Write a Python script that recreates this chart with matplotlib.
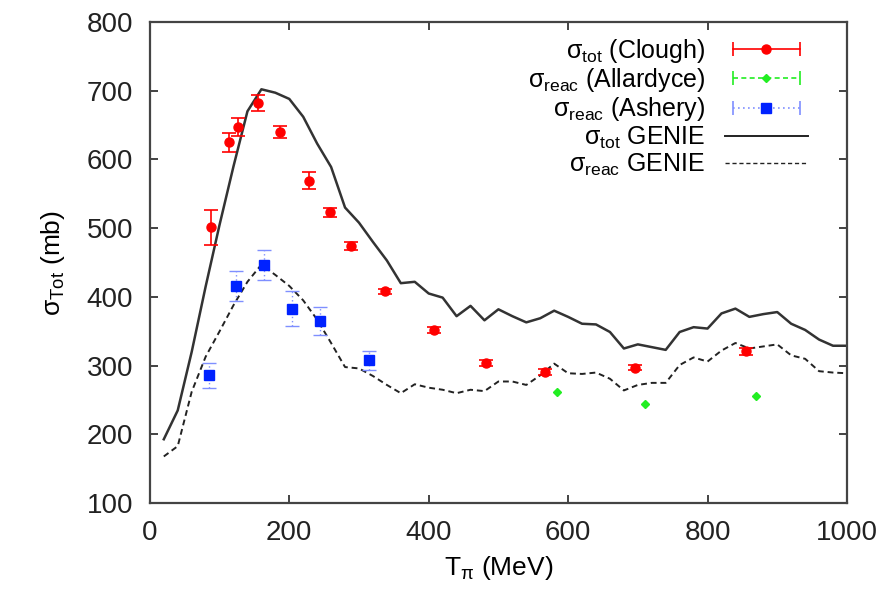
import matplotlib
matplotlib.use("Agg")
import matplotlib.pyplot as plt
from matplotlib.lines import Line2D
from matplotlib.legend_handler import HandlerLine2D, HandlerTuple

plt.rcParams["font.family"] = ["Liberation Sans", "DejaVu Sans"]
plt.rcParams["mathtext.fontset"] = "custom"
plt.rcParams["mathtext.rm"] = "Liberation Sans"
plt.rcParams["mathtext.it"] = "Liberation Sans:italic"

# sigma_tot (Clough)
clough_t = [88, 114, 127, 155, 186, 228, 258, 288, 337, 407, 482, 567, 696, 855]
clough_s = [501, 625, 647, 682, 640, 569, 523, 474, 408, 352, 304, 291, 297, 321]
clough_err = [25, 14, 13, 12, 9, 12, 7, 6, 4, 4, 4, 4, 4, 5]

# sigma_reac (Allardyce)
allardyce_t = [584, 711, 870]
allardyce_s = [262, 245, 256]

# sigma_reac (Ashery)
ashery_t = [85, 124, 164, 204, 244, 315]
ashery_s = [286, 416, 446, 383, 365, 308]
ashery_err = [18, 22, 22, 25, 20, 14]

# GENIE curves
genie_t = [20, 40, 60, 80, 100, 120, 140, 160, 180, 200, 220, 240, 260, 280, 300,
           320, 340, 360, 380, 400, 420, 440, 460, 480, 500, 520, 540, 560, 580, 600,
           620, 640, 660, 680, 700, 720, 740, 760, 780, 800, 820, 840, 860, 880, 900,
           920, 940, 960, 980, 1000]
genie_tot = [193, 235, 320, 415, 505, 590, 670, 702, 697, 688, 662, 623, 589, 530, 508,
             480, 453, 420, 422, 405, 399, 372, 387, 366, 382, 372, 363, 369, 380, 371,
             361, 360, 349, 325, 331, 327, 323, 349, 356, 354, 376, 383, 371, 375, 378,
             361, 352, 338, 329, 329]
genie_reac = [168, 183, 262, 313, 350, 388, 422, 447, 432, 416, 395, 367, 333, 298, 296,
              285, 272, 260, 273, 268, 265, 260, 265, 263, 277, 277, 272, 286, 303, 289,
              288, 290, 281, 264, 272, 275, 275, 301, 312, 306, 322, 333, 325, 328, 331,
              315, 310, 292, 290, 289]

fig = plt.figure(figsize=(8.92, 5.92), dpi=100)
ax = fig.add_axes([0.168, 0.150, 0.7815, 0.813])

red = "#ff0000"
green = "#22ee22"
blue = "#0022ff"
lblue = "#7f8fff"

ax.plot(genie_t, genie_tot, color="#333333", lw=1.8, zorder=2)
ax.plot(genie_t, genie_reac, color="#222222", lw=1.4, ls=(0, (3, 2)), zorder=2)

ax.errorbar(clough_t, clough_s, yerr=clough_err, fmt="o", color=red, ms=6.5,
            ecolor=red, elinewidth=1.2, capsize=5, capthick=1.2, zorder=3)
ax.plot(allardyce_t, allardyce_s, "D", color=green, ms=4, zorder=3)
eb = ax.errorbar(ashery_t, ashery_s, yerr=ashery_err, fmt="s", color=blue, ms=7,
                 ecolor=lblue, elinewidth=1.0, capsize=5, capthick=1.0, zorder=3)
eb[2][0].set_linestyle((0, (1, 2)))

ax.set_xlim(0, 1000)
ax.set_ylim(100, 800)
ax.set_xticks([0, 200, 400, 600, 800, 1000])
ax.set_yticks([100, 200, 300, 400, 500, 600, 700, 800])
ax.tick_params(direction="in", length=6, width=1.2, top=True, right=True,
               labelsize=20, pad=12, colors="#222222")
for s in ax.spines.values():
    s.set_linewidth(1.6)
    s.set_color("#444444")

ax.set_xlabel(r"T$_{\rm π}$ (MeV)", fontsize=19, labelpad=6)
ax.set_ylabel(r"σ$_{\rm Tot}$ (mb)", fontsize=19, labelpad=14)

# legend handles in gnuplot style: line with end caps and marker in middle
def cap_handle(color, ls, marker, ms):
    caps = Line2D([], [], color=color, ls=ls, lw=1.2, marker="|", ms=10, mew=1.2)
    dot = Line2D([], [], color=color, ls="none", marker=marker, ms=ms)
    return (caps, dot), {caps: HandlerLine2D(numpoints=2), dot: HandlerLine2D(numpoints=1)}

h1, m1 = cap_handle(red, "-", "o", 6.5)
h2, m2 = cap_handle(green, (0, (3, 2)), "D", 4)
h3, m3 = cap_handle(lblue, (0, (1, 2)), "s", 7)
h3[1].set_color(blue)
h4 = Line2D([], [], color="#222222", lw=1.4)
h5 = Line2D([], [], color="#222222", lw=1.0, ls=(0, (3, 2)))
hmap = {tuple: HandlerTuple(ndivide=1, pad=0)}
hmap.update(m1)
hmap.update(m2)
hmap.update(m3)

labels = ["σ$_{\\rm tot}$ (Clough)", "σ$_{\\rm reac}$ (Allardyce)",
          "σ$_{\\rm reac}$ (Ashery)", "σ$_{\\rm tot}$ GENIE",
          "σ$_{\\rm reac}$ GENIE"]
leg = ax.legend([h1, h2, h3, h4, h5], labels, handler_map=hmap, loc="upper right",
                bbox_to_anchor=(0.965, 1.0), frameon=False, markerfirst=False,
                fontsize=18, handlelength=3.3, handletextpad=0.8, labelspacing=0.05,
                borderaxespad=0.2)
for col in leg._legend_handle_box.get_children():
    col.align = "right"

fig.savefig("out.png", dpi=100)
